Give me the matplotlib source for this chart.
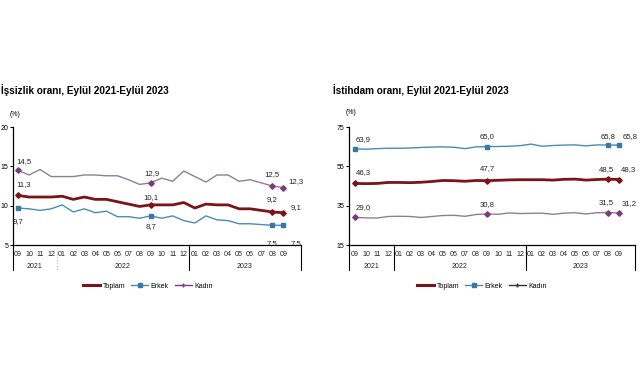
#!/usr/bin/env python3
# -*- coding: utf-8 -*-

import matplotlib
matplotlib.use('Agg')
import matplotlib.pyplot as plt
from matplotlib.lines import Line2D

months = ['09', '10', '11', '12', '01', '02', '03', '04', '05', '06', '07', '08',
          '09', '10', '11', '12', '01', '02', '03', '04', '05', '06', '07', '08', '09']
years = ['2021', '2022', '2023']

# issizlik orani
unemp_toplam = [11.3, 11.1, 11.1, 11.1, 11.2, 10.8, 11.1, 10.8, 10.8, 10.5, 10.2, 9.9,
                10.1, 10.1, 10.1, 10.4, 9.7, 10.2, 10.1, 10.1, 9.6, 9.6, 9.4, 9.2, 9.1]
unemp_erkek = [9.7, 9.6, 9.4, 9.6, 10.1, 9.2, 9.6, 9.1, 9.3, 8.6, 8.6, 8.4,
               8.7, 8.4, 8.7, 8.1, 7.8, 8.7, 8.2, 8.1, 7.7, 7.7, 7.6, 7.5, 7.5]
unemp_kadin = [14.5, 13.9, 14.6, 13.7, 13.7, 13.7, 13.9, 13.9, 13.8, 13.8, 13.3, 12.7,
               12.9, 13.5, 13.1, 14.4, 13.7, 13.0, 13.9, 13.9, 13.1, 13.3, 12.9, 12.5, 12.3]

# istihdam orani
emp_toplam = [46.3, 46.2, 46.3, 46.8, 46.8, 46.7, 46.9, 47.3, 47.8, 47.7, 47.4, 47.8,
              47.7, 47.9, 48.1, 48.2, 48.2, 48.2, 48.0, 48.4, 48.5, 48.0, 48.3, 48.5, 48.3]
emp_erkek = [63.9, 63.7, 64.0, 64.2, 64.2, 64.3, 64.6, 64.8, 64.9, 64.7, 64.0, 64.9,
             65.0, 65.1, 65.2, 65.5, 66.3, 65.2, 65.6, 65.8, 65.9, 65.4, 65.9, 65.8, 65.8]
emp_kadin = [29.0, 28.8, 28.7, 29.5, 29.6, 29.5, 29.0, 29.5, 30.0, 30.1, 29.6, 30.5,
             30.8, 30.6, 31.3, 31.0, 31.1, 31.2, 30.6, 31.2, 31.4, 30.8, 31.4, 31.5, 31.2]

marked = [0, 12, 23, 24]

RED = '#7a1418'
BLUE = '#4a8cb4'
BLUE_M = '#3a78a4'
PURPLE_L = '#8f7f96'
PURPLE_M = '#7a3c7c'

W, H = 641, 380


def fmt(v):
	return ('%.1f' % v).replace('.', ',')


def px_axes(fig, x0, x1, y0, y1):
	# pixel box -> figure fraction
	return fig.add_axes([x0 / W, 1 - y1 / H, (x1 - x0) / W, (y1 - y0) / H])


def draw_panel(ax, series, ylim, yticks, xlim, first_sep_dotted, labels):
	x = list(range(len(months)))
	for vals, col, lw, mk, mcol, ms in series:
		ax.plot(x, vals, color=col, lw=lw, zorder=2)
		ax.plot(marked, [vals[i] for i in marked], ls='none', marker=mk,
				color=mcol, ms=ms, zorder=3)
	for vals, pos in labels:
		for i, (dx, dy) in zip(marked, pos):
			ax.annotate(fmt(vals[i]), (i, vals[i]), xytext=(dx, dy),
						textcoords='offset points', ha='center', va='center',
						fontsize=5.6, color='#222222')
	ax.set_xlim(*xlim)
	ax.set_ylim(*ylim)
	ax.set_yticks(yticks)
	ax.set_xticks([])
	for s in ['top', 'right']:
		ax.spines[s].set_visible(False)
	ax.spines['left'].set_linewidth(0.9)
	ax.spines['bottom'].set_linewidth(0.9)
	ax.tick_params(axis='y', length=2.5, width=0.8, pad=1, labelsize=5)

	tr = ax.get_xaxis_transform()
	hpx = ax.get_position().height * H
	for i, m in enumerate(months):
		ax.text(i, -10 / hpx, m, transform=tr, ha='center', va='center',
				fontsize=5.1, color='#222222')
	for yr, cx in zip(years, [1.5, 9.5, 20.5]):
		ax.text(cx, -21 / hpx, yr, transform=tr, ha='center', va='center',
				fontsize=5, color='#222222')
	low = -25 / hpx
	seps = [(xlim[0], '-', 'black'), (3.5, ':' if first_sep_dotted else '-',
			'#bbbbbb' if first_sep_dotted else 'black'),
			(15.5, '-', 'black'), (xlim[1], '-', 'black')]
	for sx, ls, c in seps:
		ax.add_line(Line2D([sx, sx], [0, low], transform=tr, clip_on=False,
						   ls=ls, color=c, lw=0.8))


def legend(fig, cx, kadin_col):
	h = [Line2D([], [], color=RED, lw=2.2),
		 Line2D([], [], color=BLUE, lw=1, marker='s', ms=2.5, mfc=BLUE_M, mec=BLUE_M),
		 Line2D([], [], color=kadin_col, lw=1, marker='+', ms=3, mec=kadin_col)]
	fig.legend(h, ['Toplam', 'Erkek', 'Kadın'], loc='center',
			   bbox_to_anchor=(cx / W, 1 - 286 / H), ncol=3, frameon=False,
			   fontsize=5, handlelength=2.4, columnspacing=0.9, handletextpad=0.4)


def main():
	plt.rcParams['font.family'] = ['Liberation Sans', 'DejaVu Sans']
	fig = plt.figure(figsize=(W / 100, H / 100), dpi=100)
	fig.patch.set_facecolor('white')

	# left panel: issizlik
	ax1 = px_axes(fig, 13, 301, 127, 245)
	draw_panel(ax1,
			   [(unemp_kadin, PURPLE_L, 1.0, 'D', PURPLE_M, 2.8),
				(unemp_erkek, BLUE, 1.0, 's', BLUE_M, 3.2),
				(unemp_toplam, RED, 2.0, 'D', RED, 2.8)],
			   (5, 20), [5, 10, 15, 20], (-0.45, 25.6), True,
			   [(unemp_kadin, [(4, 6), (1, 7), (0, 8), (9, 4)]),
				(unemp_toplam, [(4, 8), (0, 5), (0, 9), (9, 4)]),
				(unemp_erkek, [(0, -10), (0, -8), (0, -13), (9, -13)])])
	fig.text(1 / W, 1 - 90 / H, 'İşsizlik oranı, Eylül 2021-Eylül 2023',
			 fontsize=7.2, fontweight='bold', va='center', ha='left')
	fig.text(15 / W, 1 - 114 / H, '(%)', fontsize=5, va='center', ha='center')
	legend(fig, 148, PURPLE_M)

	# right panel: istihdam
	ax2 = px_axes(fig, 349, 635, 127, 245)
	draw_panel(ax2,
			   [(emp_erkek, BLUE, 1.0, 's', BLUE_M, 3.2),
				(emp_toplam, RED, 2.0, 'D', RED, 2.8),
				(emp_kadin, PURPLE_L, 1.0, 'D', PURPLE_M, 2.8)],
			   (15, 75), [15, 35, 55, 75], (-0.55, 25.45), False,
			   [(emp_erkek, [(6, 7), (0, 7), (0, 6), (8, 6)]),
				(emp_toplam, [(6, 8), (0, 9), (-1, 7), (7, 7)]),
				(emp_kadin, [(6, 7), (0, 7), (-1, 7), (7, 7)])])
	fig.text(333 / W, 1 - 90 / H, 'İstihdam oranı, Eylül 2021-Eylül 2023',
			 fontsize=7.2, fontweight='bold', va='center', ha='left')
	fig.text(351 / W, 1 - 112 / H, '(%)', fontsize=5, va='center', ha='center')
	legend(fig, 482, '#333333')

	fig.savefig('out.png', dpi=100, facecolor='white')


if __name__ == "__main__":
	main()
